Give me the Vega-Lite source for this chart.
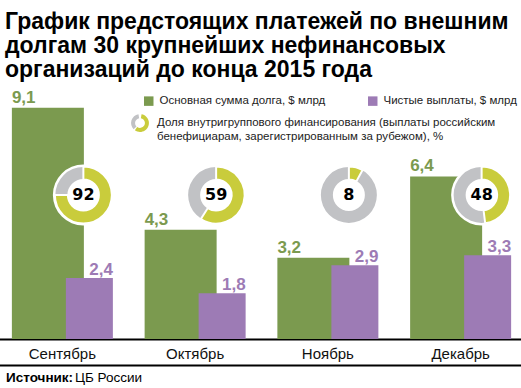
{
  "$schema": "https://vega.github.io/schema/vega-lite/v6.json",
  "width": 521,
  "height": 254,
  "autosize": {"type": "none"},
  "padding": {"left": 0, "right": 0, "top": 85, "bottom": 49},
  "config": {
    "view": {"stroke": null},
    "font": "Liberation Sans",
    "locale": {"number": {"decimal": ",", "thousands": " ", "grouping": [3], "currency": ["", " $"]}}
  },
  "title": {
    "text": ["График предстоящих платежей по внешним", "долгам 30 крупнейших нефинансовых", "организаций до конца 2015 года"],
    "anchor": "start",
    "frame": "group",
    "font": "Liberation Sans",
    "fontSize": 23,
    "fontWeight": "bold",
    "lineHeight": 24,
    "color": "#000000",
    "dx": 5,
    "offset": 3
  },
  "datasets": {
    "bars": [
      {"month": "Сентябрь", "series": "Основная сумма долга, $ млрд", "value": 9.1},
      {"month": "Сентябрь", "series": "Чистые выплаты, $ млрд", "value": 2.4},
      {"month": "Октябрь", "series": "Основная сумма долга, $ млрд", "value": 4.3},
      {"month": "Октябрь", "series": "Чистые выплаты, $ млрд", "value": 1.8},
      {"month": "Ноябрь", "series": "Основная сумма долга, $ млрд", "value": 3.2},
      {"month": "Ноябрь", "series": "Чистые выплаты, $ млрд", "value": 2.9},
      {"month": "Декабрь", "series": "Основная сумма долга, $ млрд", "value": 6.4},
      {"month": "Декабрь", "series": "Чистые выплаты, $ млрд", "value": 3.3}
    ],
    "donuts": [
      {"month": "Сентябрь", "pct": 92, "arc": 75},
      {"month": "Октябрь", "pct": 59, "arc": 59},
      {"month": "Ноябрь", "pct": 8, "arc": 8},
      {"month": "Декабрь", "pct": 48, "arc": 48}
    ]
  },
  "layer": [
    {
      "data": {"name": "bars"},
      "transform": [{"filter": "datum.series === 'Основная сумма долга, $ млрд'"}],
      "mark": {"type": "bar", "width": 72, "xOffset": -14.5},
      "encoding": {
        "x": {
          "field": "month", "type": "nominal",
          "sort": ["Сентябрь", "Октябрь", "Ноябрь", "Декабрь"],
          "scale": {"range": [-4, 527], "paddingInner": 0, "paddingOuter": 0},
          "axis": {
            "title": null, "ticks": false, "domain": true, "domainColor": "#000000", "domainWidth": 2,
            "labelFont": "Liberation Sans", "labelFontSize": 15, "labelColor": "#111111", "labelPadding": 7, "labelAngle": 0
          }
        },
        "y": {"field": "value", "type": "quantitative", "scale": {"domain": [0, 10]}, "axis": null},
        "color": {
          "field": "series", "type": "nominal",
          "scale": {"domain": ["Основная сумма долга, $ млрд", "Чистые выплаты, $ млрд"], "range": ["#7b9a4f", "#9d7bb5"]},
          "legend": {
            "orient": "none", "legendX": 143, "legendY": 10, "direction": "horizontal", "title": null,
            "symbolType": "square", "symbolSize": 90, "symbolStrokeWidth": 0,
            "labelFont": "Liberation Sans", "labelFontSize": 11.5, "labelColor": "#222222", "labelLimit": 400,
            "columnPadding": 41, "labelOffset": 5
          }
        }
      }
    },
    {
      "data": {"name": "bars"},
      "transform": [{"filter": "datum.series === 'Чистые выплаты, $ млрд'"}],
      "mark": {"type": "bar", "width": 47, "xOffset": 27},
      "encoding": {
        "x": {"field": "month", "type": "nominal", "sort": ["Сентябрь", "Октябрь", "Ноябрь", "Декабрь"]},
        "y": {"field": "value", "type": "quantitative"},
        "color": {"field": "series", "type": "nominal"}
      }
    },
    {
      "data": {"name": "bars"},
      "transform": [{"filter": "datum.series === 'Основная сумма долга, $ млрд'"}],
      "mark": {"type": "text", "align": "left", "baseline": "alphabetic", "dx": -50.5, "dy": -5, "fontSize": 17, "fontWeight": "bold", "font": "Liberation Sans"},
      "encoding": {
        "x": {"field": "month", "type": "nominal", "sort": ["Сентябрь", "Октябрь", "Ноябрь", "Декабрь"]},
        "y": {"field": "value", "type": "quantitative"},
        "text": {"field": "value", "type": "quantitative", "format": ".1f"},
        "color": {"field": "series", "type": "nominal"}
      }
    },
    {
      "data": {"name": "bars"},
      "transform": [{"filter": "datum.series === 'Чистые выплаты, $ млрд'"}],
      "mark": {"type": "text", "align": "right", "baseline": "alphabetic", "dx": 50.5, "dy": -3, "fontSize": 17, "fontWeight": "bold", "font": "Liberation Sans"},
      "encoding": {
        "x": {"field": "month", "type": "nominal", "sort": ["Сентябрь", "Октябрь", "Ноябрь", "Декабрь"]},
        "y": {"field": "value", "type": "quantitative"},
        "text": {"field": "value", "type": "quantitative", "format": ".1f"},
        "color": {"field": "series", "type": "nominal"}
      }
    },
    {
      "data": {"name": "donuts"},
      "mark": {"type": "arc", "theta": 0, "theta2": 6.2832, "outerRadius": 30.5, "innerRadius": 0, "fill": "#ffffff", "xOffset": 21},
      "encoding": {
        "x": {"field": "month", "type": "nominal", "sort": ["Сентябрь", "Октябрь", "Ноябрь", "Декабрь"]},
        "y": {"datum": 5.67, "type": "quantitative"}
      }
    },
    {
      "data": {"name": "donuts"},
      "mark": {"type": "arc", "theta": 0, "theta2": 6.2832, "outerRadius": 28, "innerRadius": 16, "fill": "#c1c2c5", "strokeWidth": 0, "xOffset": 21},
      "encoding": {
        "x": {"field": "month", "type": "nominal", "sort": ["Сентябрь", "Октябрь", "Ноябрь", "Декабрь"]},
        "y": {"datum": 5.67, "type": "quantitative"},
        "stroke": {
          "datum": " ", "type": "nominal",
          "scale": {"range": ["#c1c2c5"]},
          "legend": {
            "orient": "none", "legendX": 131, "legendY": 29, "title": null,
            "symbolType": "M-0.707,0.707A1,1 0 0,1 -0.174,-0.985L-0.0955,-0.5417A0.55,0.55 0 0,0 -0.389,0.389Z",
            "symbolSize": 320, "symbolStrokeWidth": 0, "symbolFillColor": "#c1c2c5",
            "labelFontSize": 11.5, "labelOffset": 8
          }
        }
      }
    },
    {
      "data": {"name": "donuts"},
      "mark": {"type": "arc", "outerRadius": 28.5, "innerRadius": 15.5, "stroke": "#ffffff", "strokeWidth": 2, "xOffset": 21},
      "encoding": {
        "x": {"field": "month", "type": "nominal", "sort": ["Сентябрь", "Октябрь", "Ноябрь", "Декабрь"]},
        "y": {"datum": 5.67, "type": "quantitative"},
        "theta": {"field": "arc", "type": "quantitative", "stack": null, "scale": {"domain": [0, 100], "range": [0, 6.2832]}},
        "fill": {
          "datum": "Доля внутригруппового финансирования (выплаты российским|бенефициарам, зарегистрированным за рубежом), %",
          "type": "nominal",
          "scale": {"range": ["#c9cc3c"]},
          "legend": {
            "orient": "none", "legendX": 131, "legendY": 29, "title": null,
            "symbolType": "M0.174,-0.985A1,1 0 1,1 -0.574,0.819L-0.3155,0.4505A0.55,0.55 0 1,0 0.0955,-0.5417Z",
            "symbolSize": 320, "symbolStrokeWidth": 0,
            "labelExpr": "split(datum.label, '|')",
            "labelFont": "Liberation Sans", "labelFontSize": 11.5, "labelColor": "#222222", "labelLimit": 500, "labelOffset": 8
          }
        }
      }
    },
    {
      "data": {"name": "donuts"},
      "mark": {"type": "text", "font": "DejaVu Sans", "fontWeight": "bold", "fontSize": 16, "baseline": "middle", "align": "center", "color": "#000000", "xOffset": 21},
      "encoding": {
        "x": {"field": "month", "type": "nominal", "sort": ["Сентябрь", "Октябрь", "Ноябрь", "Декабрь"]},
        "y": {"datum": 5.67, "type": "quantitative"},
        "text": {"field": "pct", "type": "quantitative"}
      }
    },
    {
      "data": {"values": [{}]},
      "mark": {"type": "rule", "color": "#000000", "strokeWidth": 2},
      "encoding": {"y": {"datum": -1.04, "type": "quantitative"}}
    },
    {
      "data": {"values": [{}]},
      "mark": {"type": "text", "text": "Источник:", "font": "Liberation Sans", "fontWeight": "bold", "fontSize": 13.5, "align": "left", "baseline": "middle", "color": "#000000", "dx": 10},
      "encoding": {
        "x": {"datum": "Сентябрь", "type": "nominal", "bandPosition": 0},
        "y": {"datum": -1.54, "type": "quantitative"}
      }
    },
    {
      "data": {"values": [{}]},
      "mark": {"type": "text", "text": "ЦБ России", "font": "Liberation Sans", "fontSize": 13.5, "align": "left", "baseline": "middle", "color": "#000000", "dx": 79},
      "encoding": {
        "x": {"datum": "Сентябрь", "type": "nominal", "bandPosition": 0},
        "y": {"datum": -1.54, "type": "quantitative"}
      }
    }
  ]
}
